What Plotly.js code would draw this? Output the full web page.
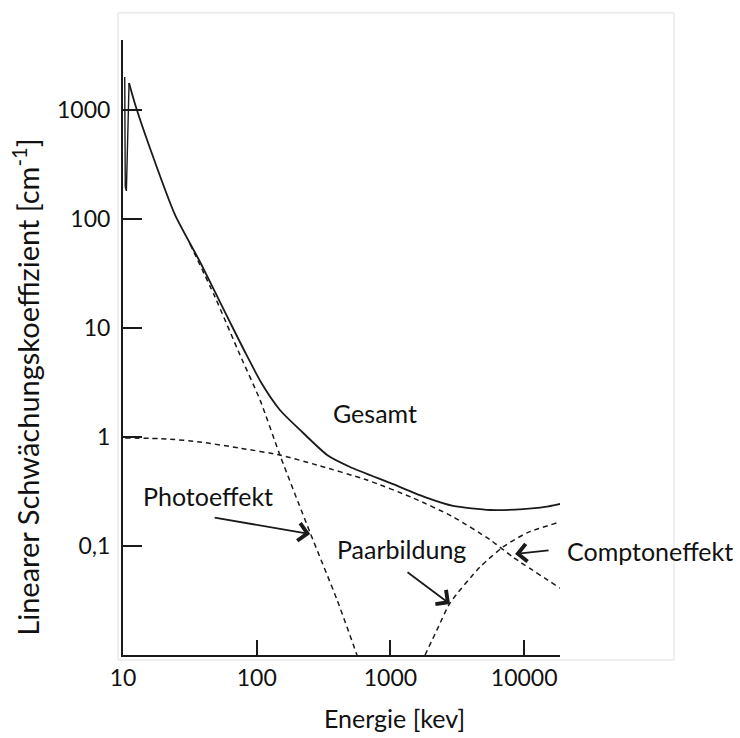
<!DOCTYPE html>
<html>
<head>
<meta charset="utf-8">
<script src="https://cdn.plot.ly/plotly-3.0.1.min.js"></script>
<style>
  html, body { margin: 0; padding: 0; background: #fff; }
  #chart { width: 740px; height: 738px; }
</style>
</head>
<body>
<div id="chart"></div>
<script>
// Photon energy [keV] and linear attenuation coefficients [cm^-1]
// Total attenuation: the K-edge jump near 10 keV, then the smooth falling curve
const edgeEnergy = [10.3, 10.4, 10.6, 11.1];
const edgeValue  = [2010, 197, 181, 1770];

const gesamtEnergy = [11.1, 12.3, 15.9, 24.5, 37.7, 57.9, 81.7, 109.6, 149, 211, 336, 499, 993, 1880, 2940, 5560, 9810, 14300, 18600];
const gesamtValue  = [1770, 1135, 448, 109, 40.3, 14.0, 6.02, 3.06, 1.77, 1.16, 0.684, 0.531, 0.379, 0.276, 0.233, 0.214, 0.218, 0.228, 0.243];

const photoEnergy = [31.7, 48.8, 75, 106, 149, 251, 399, 562];
const photoValue  = [59, 19.2, 5.65, 2.18, 0.684, 0.132, 0.032, 0.01];

const comptonEnergy = [10.4, 21.3, 37.7, 75, 149, 282, 668, 1476, 2940, 5560, 8260, 18600];
const comptonValue  = [0.98, 0.96, 0.90, 0.79, 0.684, 0.553, 0.403, 0.276, 0.185, 0.114, 0.079, 0.041];

const paarEnergy = [1815, 2230, 2790, 4680, 6950, 10500, 17600];
const paarValue  = [0.01, 0.017, 0.030, 0.0642, 0.098, 0.132, 0.163];

const xTickVals = [10, 100, 1000, 10000];
const xTickText = ['10', '100', '1000', '10000'];
const yTickVals = [0.1, 1, 10, 100, 1000];
const yTickText = ['0,1', '1', '10', '100', '1000'];

const FONT = 'Lato, "Open Sans", sans-serif';
const INK = '#1a1a1a';

const solid = { color: INK, width: 1.8 };
const dashed = { color: INK, width: 1.5, dash: '5px,4px', shape: 'spline', smoothing: 0.6 };

const traces = [
  { x: edgeEnergy, y: edgeValue, mode: 'lines', line: { color: INK, width: 1.4 }, name: 'K-Kante' },
  { x: gesamtEnergy, y: gesamtValue, mode: 'lines', line: Object.assign({ shape: 'spline', smoothing: 0.6 }, solid), name: 'Gesamt' },
  { x: photoEnergy, y: photoValue, mode: 'lines', line: dashed, name: 'Photoeffekt' },
  { x: comptonEnergy, y: comptonValue, mode: 'lines', line: dashed, name: 'Comptoneffekt' },
  { x: paarEnergy, y: paarValue, mode: 'lines', line: dashed, name: 'Paarbildung' }
];

const lg = Math.log10;
const tickFont = { family: FONT, size: 23, color: '#111' };
const labelFont = { family: FONT, size: 25, color: '#111' };

function label(text, x, y, extra) {
  return Object.assign({
    text: text, xref: 'paper', yref: 'paper', x: x, y: y,
    xanchor: 'center', yanchor: 'middle', showarrow: false, font: labelFont
  }, extra || {});
}

function arrow(e, v, ax, ay) {
  return {
    x: lg(e), y: lg(v), xref: 'x', yref: 'y', text: ' ',
    showarrow: true, arrowhead: 4, arrowsize: 1.9, arrowwidth: 1.8,
    arrowcolor: INK, ax: ax, ay: ay
  };
}

const layout = {
  width: 740, height: 738,
  margin: { l: 123, r: 180, t: 40, b: 83 },
  paper_bgcolor: '#fff', plot_bgcolor: '#fff',
  showlegend: false,
  font: labelFont,
  xaxis: {
    type: 'log', range: [1, 4.268],
    tickvals: xTickVals, ticktext: xTickText,
    ticks: 'inside', ticklen: 15, tickwidth: 2, tickcolor: INK,
    showline: true, linewidth: 2, linecolor: INK,
    showgrid: false, zeroline: false,
    ticklabelstandoff: 1,
    tickfont: tickFont
  },
  yaxis: {
    type: 'log', range: [-2, 3.642],
    tickvals: yTickVals, ticktext: yTickText,
    ticks: 'inside', ticklen: 19, tickwidth: 2, tickcolor: INK,
    showline: true, linewidth: 2, linecolor: INK,
    showgrid: false, zeroline: false,
    ticklabelstandoff: 6,
    tickfont: tickFont
  },
  shapes: [
    { type: 'rect', xref: 'paper', yref: 'paper',
      x0: -0.0114, x1: 1.261, y0: -0.0081, y1: 1.044,
      line: { color: '#dedede', width: 1 }, layer: 'below' }
  ],
  annotations: [
    label('Gesamt', 0.5767, 0.3935),
    label('Photoeffekt', 0.1945, 0.2585),
    label('Paarbildung', 0.6384, 0.1724),
    label('Comptoneffekt', 1.0114, 0.1691, { xanchor: 'left' }),
    label('Energie [kev]', 0.6224, -0.1024),
    label('Linearer Schwächungskoeffizient [cm<sup>-1</sup>]', -0.2224, 0.436,
      { textangle: -90, font: { family: FONT, size: 29, color: '#111' } }),
    arrow(251, 0.129, -100, -17),
    arrow(2790, 0.0294, -47, -35),
    arrow(8550, 0.0845, 38, -4)
  ]
};

Plotly.newPlot('chart', traces, layout, { staticPlot: true, displayModeBar: false });
</script>
</body>
</html>
